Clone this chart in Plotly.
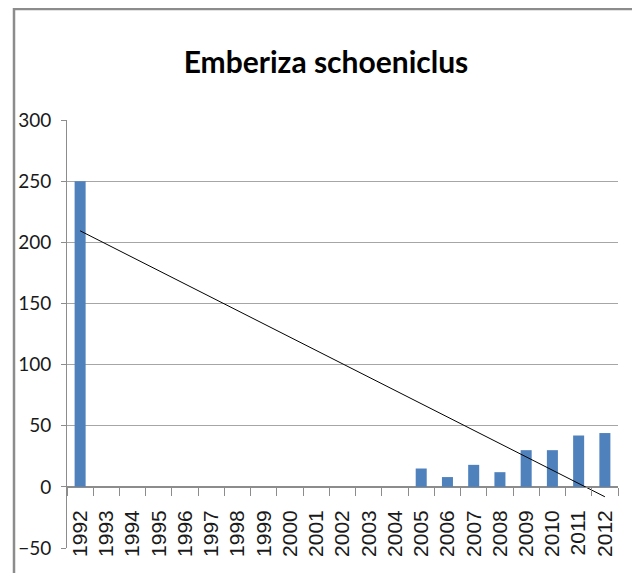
import numpy as np
import plotly.graph_objects as go

years = [str(y) for y in range(1992, 2013)]
counts = [250, None, None, None, None, None, None, None, None, None, None, None, None,
          15, 8, 18, 12, 30, 30, 42, 44]
title_text = "Emberiza schoeniclus"
y_ticks = [-50, 0, 50, 100, 150, 200, 250, 300]

# linear trend over the observed points (Excel-style trendline)
xi = np.array([i for i, v in enumerate(counts) if v is not None], dtype=float)
yi = np.array([v for v in counts if v is not None], dtype=float)
slope, intercept = np.polyfit(xi, yi, 1)
trend_y = [intercept, intercept + slope * (len(years) - 1)]

# page has an 8px body margin, so the figure is sized/offset to compensate
OFF = 8
W, H = 640 - OFF, 573 - OFF
L, R, T, B = 67 - OFF, 22, 120 - OFF, 25
pw, ph = W - L - R, H - T - B

def px_x(p):
    return (p - OFF - L) / pw

def px_y(p):
    return (H - B - (p - OFF)) / ph

fig = go.Figure()
fig.add_trace(go.Bar(x=years, y=counts, marker_color="#4F81BD",
                     marker_line_width=0, showlegend=False))
fig.add_trace(go.Scatter(x=[years[0], years[-1]], y=trend_y, mode="lines",
                         line=dict(color="#000000", width=1), showlegend=False))

ymin, ymax = -50, 300
fig.update_layout(
    width=W, height=H,
    margin=dict(l=L, r=R, t=T, b=B, autoexpand=False),
    paper_bgcolor="white", plot_bgcolor="white",
    bargap=0.58,
    title=dict(text="<b>" + title_text + "</b>", x=(326 - OFF) / W, xanchor="center",
               y=1 - (62 - OFF) / H, yanchor="middle",
               font=dict(family="Lato, sans-serif", size=30, color="#000000")),
    xaxis=dict(type="category", anchor="free", position=(0 - ymin) / (ymax - ymin),
               showline=True, linecolor="#8c8c8c", linewidth=1,
               ticks="outside", ticklen=8, tickcolor="#8c8c8c", tickson="boundaries",
               tickangle=-90, showgrid=False, ticklabelstandoff=14,
               tickfont=dict(family="Liberation Sans, Arial, sans-serif", size=21, color="#1a1a1a")),
    yaxis=dict(range=[ymin, ymax], tickvals=y_ticks, showline=True, linecolor="#8c8c8c",
               linewidth=1, ticks="outside", ticklen=5, tickcolor="#8c8c8c",
               showgrid=True, gridcolor="#a6a6a6", gridwidth=1, ticklabelstandoff=6,
               zeroline=True, zerolinecolor="#8c8c8c", zerolinewidth=1,
               tickfont=dict(family="Lato, sans-serif", size=19, color="#1a1a1a")),
    shapes=[dict(type="rect", xref="paper", yref="paper",
                 x0=px_x(14), x1=px_x(636), y0=px_y(585), y1=px_y(9),
                 line=dict(color="#8c8c8c", width=2.5), fillcolor="rgba(0,0,0,0)",
                 layer="below")],
)

fig.write_html("out.html")
